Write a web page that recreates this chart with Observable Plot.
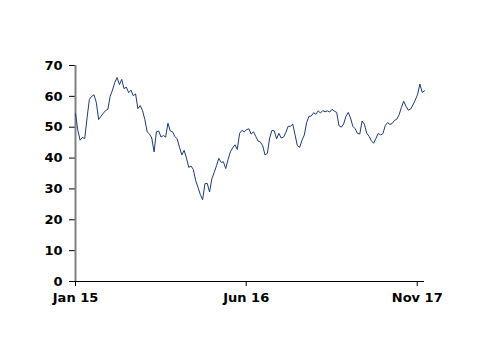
<!DOCTYPE html>
<html><head><meta charset="utf-8">
<script src="https://cdn.jsdelivr.net/npm/d3@7"></script>
<script src="https://cdn.jsdelivr.net/npm/@observablehq/plot@0.6"></script>
<style>body{margin:0;background:#fff}</style>
</head><body><div id="chart"></div>
<script>
// Weekly series starting 2015-01-01
const startDate = "2015-01-01";
const stepDays = 7;
const values = [
  54.4, 49, 45.8, 46.7, 46.3, 53, 59, 60, 60.5, 58,
  52.5, 53.5, 54.5, 55.4, 55.8, 60, 62, 64.5, 66.1, 63.8,
  65.5, 62.5, 63, 61.2, 62, 60.2, 60.8, 56, 57, 55.4,
  52.5, 48.5, 47.8, 46.5, 42, 48.5, 48.8, 46.8, 47.3, 46.8,
  51.3, 48.8, 48.5, 47, 46.2, 43.5, 41, 42.5, 40, 37,
  37.4, 36.3, 32.7, 30.5, 28.2, 26.5, 31.7, 31.8, 29, 33.3,
  35.3, 37.5, 39.9, 38.6, 38.8, 36.6, 39.5, 42, 43.3, 44.3,
  42.8, 48, 49, 48.5, 49.2, 49.5, 47.8, 48.5, 47, 45.5,
  45.2, 44, 41, 41.5, 46.5, 49, 48.8, 46.2, 48, 46.5,
  46.8, 48.3, 50.3, 50.3, 51, 47.5, 44, 43.5, 45.8, 47.5,
  51.5, 53.5, 53.6, 54.7, 54.2, 55.3, 54.6, 55.4, 55, 55.3,
  54.9, 55.8, 55.2, 54.8, 50.5, 50, 51, 53.5, 54.8, 53,
  50.3, 49.5, 48, 47.8, 52, 51, 48, 47.1, 45.6, 44.8,
  46.4, 48, 47.5, 47.9, 50.5, 51.5, 50.9, 51.2, 52.2, 52.6,
  54, 56.4, 58.4, 56.8, 55.5, 55.9, 57.2, 58.8, 60.6, 64,
  61.3, 61.8
];
const yTicks = [0, 10, 20, 30, 40, 50, 60, 70];
const xTickDates = ["2015-01-01", "2016-06-01", "2017-11-01"];
const xTickLabels = ["Jan 15", "Jun 16", "Nov 17"];

const start = new Date(startDate);
const data = values.map((v, i) => ({date: d3.utcDay.offset(start, i * stepDays), value: v}));
const tickDates = xTickDates.map(d => new Date(d));
const fmt = new Map(tickDates.map((d, i) => [+d, xTickLabels[i]]));

const chart = Plot.plot({
  width: 500,
  height: 354,
  marginLeft: 75,
  marginRight: 76,
  marginTop: 65,
  marginBottom: 73,
  style: {fontFamily: "DejaVu Sans", fontWeight: "bold", fontSize: "13px", color: "#000", background: "#fff"},
  x: {type: "utc", domain: [start, data[data.length - 1].date]},
  y: {domain: [0, 70]},
  marks: [
    Plot.axisY({ticks: yTicks, tickSize: 6, tickPadding: 7, label: null, stroke: "#000", strokeOpacity: 1}),
    Plot.axisX({ticks: tickDates, tickFormat: d => fmt.get(+d), tickSize: 5, tickPadding: 6, label: null, stroke: "#000", strokeOpacity: 1}),
    Plot.ruleX([start], {stroke: "#808080", strokeWidth: 2}),
    Plot.ruleY([0], {stroke: "#000", strokeWidth: 1}),
    Plot.lineY(data, {x: "date", y: "value", stroke: "#1c3a7c", strokeWidth: 1})
  ]
});
document.getElementById("chart").appendChild(chart);
</script>
</body></html>
